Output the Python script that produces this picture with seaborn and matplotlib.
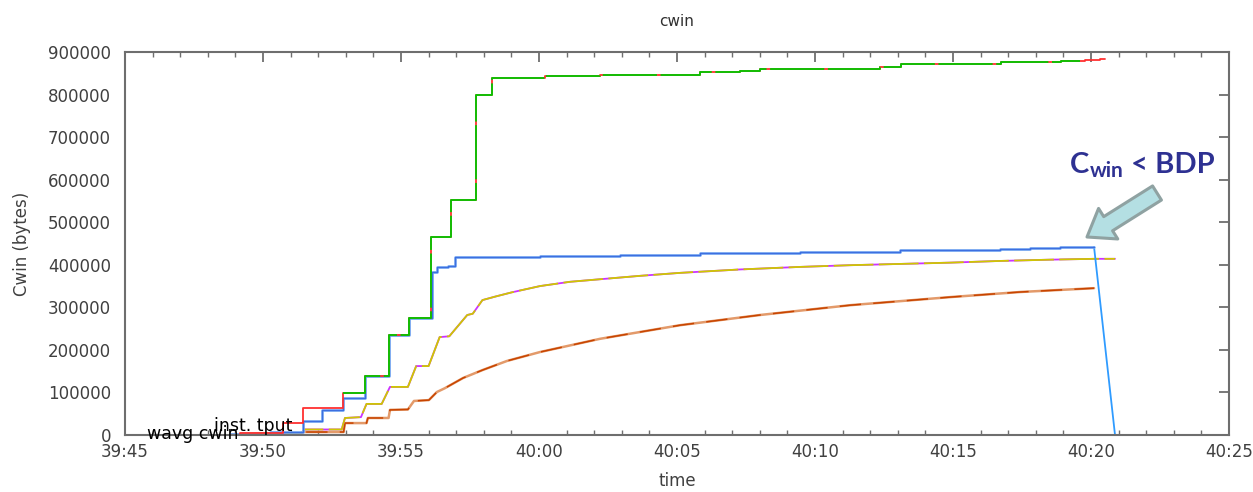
import matplotlib
matplotlib.use("Agg")
import matplotlib.pyplot as plt
import matplotlib.ticker as mticker
import seaborn as sns

# time in seconds after 39:45
T0 = 39 * 60 + 45

# congestion window, flow with the big window (red = full trace, green = cwin)
red_t = [3.26, 4.17, 5.72, 6.45, 7.90, 8.70, 9.57, 10.29, 11.10, 11.81, 12.72, 13.30,
         15.2, 17.2, 20.83, 22.28, 23.01, 27.36, 28.12, 31.74, 33.91, 34.78, 35.33, 35.5]
red_v = [0, 5000, 28000, 63000, 99000, 139000, 236000, 276000, 465000, 552000, 798000, 840000,
         843000, 847000, 854000, 856000, 861000, 864000, 871000, 876000, 878000, 881000, 883500, 883500]
green_t = [7.90, 8.70, 9.57, 10.29, 11.10, 11.81, 12.72, 13.30, 15.2, 17.2, 20.83, 22.28,
           23.01, 27.36, 28.12, 31.74, 33.91, 34.6]
green_v = [99000, 139000, 236000, 276000, 465000, 552000, 798000, 840000, 843000, 847000,
           854000, 856000, 861000, 864000, 871000, 876000, 878000, 878000]

# blue flow
blue_t = [3.80, 5.25, 6.45, 7.14, 7.90, 8.70, 9.57, 10.29, 11.12, 11.30, 11.70, 11.96,
          15.04, 17.93, 20.83, 24.46, 28.08, 31.70, 32.79, 33.88, 35.11]
blue_v = [3000, 8000, 33000, 59000, 87000, 139000, 235000, 275000, 383000, 395000, 397000, 418000,
          420000, 424000, 428000, 431000, 434000, 437000, 440000, 442000, 442000]
drop_t = [35.11, 35.87]
drop_v = [442000, 0]

# yellow / magenta flow
yel_t = [4.17, 6.40, 6.50, 7.85, 7.97, 8.55, 8.75, 9.30, 9.60, 10.25, 10.55, 11.00, 11.40, 11.75,
         12.40, 12.60, 12.95, 13.40, 14.0, 15.04, 16.12, 17.21, 18.66, 20.11, 22.28, 24.46, 26.27,
         28.08, 29.89, 31.70, 33.51, 35.11, 35.87]
yel_v = [3000, 5000, 13000, 13000, 40000, 42000, 73000, 73000, 113000, 113000, 162000, 162000,
         230000, 232000, 282000, 285000, 317000, 325000, 335000, 350000, 360000, 366000, 374000,
         381000, 389000, 395000, 399000, 402000, 405000, 409000, 412000, 414000, 414000]

# orange flow
ora_t = [4.17, 6.40, 6.45, 7.92, 7.97, 8.75, 8.80, 9.55, 9.60, 10.25, 10.47, 11.01, 11.30,
         11.59, 12.25, 12.97, 13.84, 15.04, 17.21, 20.11, 23.01, 26.27, 29.89, 32.43, 35.11]
ora_v = [2000, 2000, 7000, 7000, 28000, 28000, 40000, 40000, 59000, 60000, 80000, 82000, 101000,
         110000, 134000, 153000, 174000, 195000, 226000, 258000, 282000, 305000, 324000, 336000, 345000]


def abs_t(ts):
    return [T0 + t for t in ts]


sns.set_theme(style="white")
plt.rcParams["font.family"] = ["DejaVu Sans"]

fig = plt.figure(figsize=(12.53, 4.92), dpi=100)
ax = fig.add_axes([125 / 1253, 1 - 435 / 492, (1229 - 125) / 1253, (435 - 52) / 492])

common = dict(ax=ax, estimator=None, sort=False, errorbar=None, legend=False)

# orange pair
sns.lineplot(x=abs_t(ora_t), y=ora_v, color="#e39a6a", lw=1.8, **common)
sns.lineplot(x=abs_t(ora_t), y=ora_v, color="#c84400", lw=1.1, linestyle=(0, (14, 8)), **common)
# yellow / magenta pair
sns.lineplot(x=abs_t(yel_t), y=yel_v, color="#cc33ff", lw=1.3, **common)
sns.lineplot(x=abs_t(yel_t), y=yel_v, color="#cfc800", lw=1.3, linestyle=(0, (22, 3)), **common)
# blue pair
sns.lineplot(x=abs_t(drop_t), y=drop_v, color="#2f9bff", lw=1.3, **common)
sns.lineplot(x=abs_t(blue_t), y=blue_v, color="#7fb0f5", lw=1.9, drawstyle="steps-post", **common)
sns.lineplot(x=abs_t(blue_t), y=blue_v, color="#3d6fe0", lw=1.0, drawstyle="steps-post", **common)
# red / green pair
sns.lineplot(x=abs_t(red_t), y=red_v, color="#ff3030", lw=1.3, drawstyle="steps-post", **common)
sns.lineplot(x=abs_t(green_t), y=green_v, color="#00c800", lw=1.3, drawstyle="steps-post",
             linestyle=(0, (30, 2)), **common)

ax.set_xlim(T0, T0 + 40)
ax.set_ylim(0, 900000)
ax.xaxis.set_major_locator(mticker.MultipleLocator(5))
ax.xaxis.set_minor_locator(mticker.MultipleLocator(1))
ax.yaxis.set_major_locator(mticker.MultipleLocator(100000))
ax.xaxis.set_major_formatter(mticker.FuncFormatter(lambda v, p: "%d:%02d" % (int(v) // 60, int(v) % 60)))
ax.yaxis.set_major_formatter(mticker.FuncFormatter(lambda v, p: "%d" % v))

grey = "#6e6e6e"
for s in ax.spines.values():
    s.set_color(grey)
    s.set_linewidth(1.5)
ax.tick_params(which="both", direction="in", top=True, right=True, color=grey,
               labelcolor="#404040", labelsize=12)
ax.tick_params(which="major", length=7, width=1.3)
ax.tick_params(which="minor", length=3.5, width=1.0, bottom=True, top=True)
ax.tick_params(axis="y", pad=10)
ax.tick_params(axis="x", pad=6)

ax.set_title("cwin", fontsize=11, color="#303030", pad=19)
ax.set_xlabel("time", fontsize=12, color="#404040", labelpad=8)
ax.set_ylabel("Cwin (bytes)", fontsize=12, color="#404040", labelpad=12)

# overlapping gnuplot key labels
ax.text(T0 + 2.46, 2350, "wavg cwin", fontsize=12.5, ha="center", va="center", color="black", clip_on=False)
ax.text(T0 + 4.64, 21000, "inst. tput", fontsize=12.5, ha="center", va="center", color="black", clip_on=False)

# annotation
navy = "#2e3192"
fig.text(1070 / 1253, 1 - 173 / 492, "C", fontsize=21, fontweight="bold", color=navy,
         family="Lato", ha="left", va="baseline")
fig.text(1090 / 1253, 1 - 177 / 492, "win", fontsize=15, fontweight="bold", color=navy,
         family="Lato", ha="left", va="baseline")
fig.text(1131 / 1253, 1 - 173 / 492, "< BDP", fontsize=21, fontweight="bold", color=navy,
         family="Lato", ha="left", va="baseline")
ax.annotate("", xy=(1087, 492 - 237), xycoords="figure pixels",
            xytext=(1157, 492 - 193), textcoords="figure pixels",
            arrowprops=dict(arrowstyle="simple,head_length=0.9,head_width=1.3,tail_width=0.6",
                            mutation_scale=20, fc="#b4dfe3", ec="#8fa2a2", lw=2.2,
                            shrinkA=0, shrinkB=0))

fig.savefig("out.png", dpi=100)
